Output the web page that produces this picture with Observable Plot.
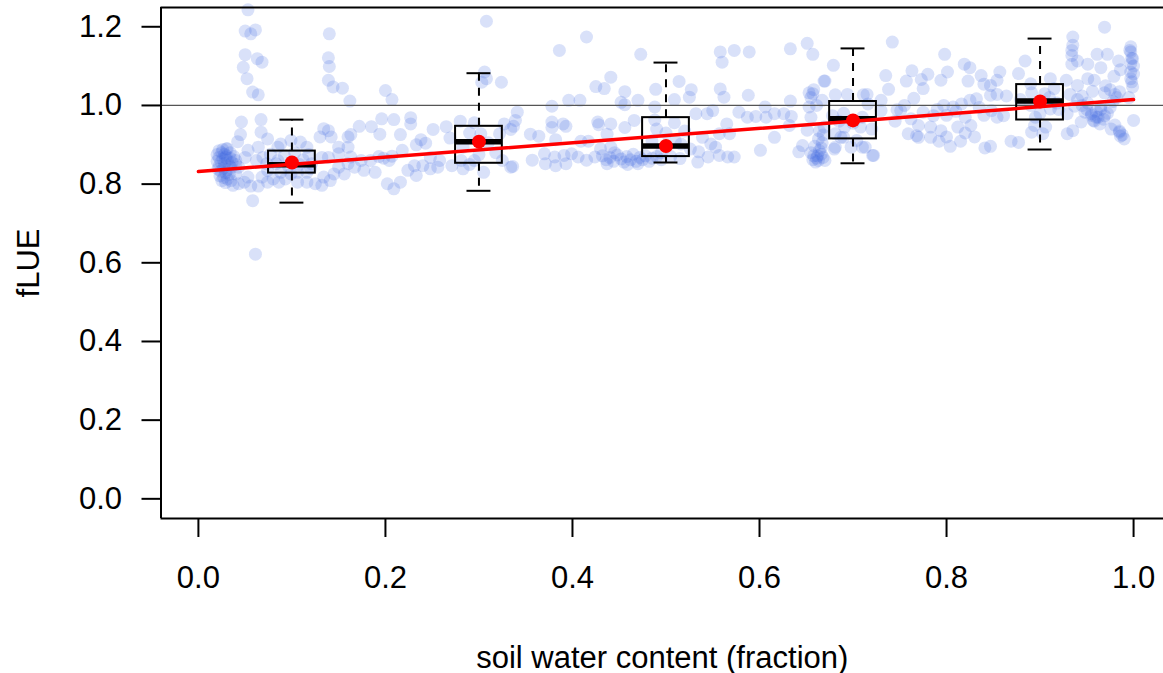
<!DOCTYPE html>
<html>
<head>
<meta charset="utf-8">
<script src="https://cdn.jsdelivr.net/npm/d3@7"></script>
<script src="https://cdn.jsdelivr.net/npm/@observablehq/plot@0.6"></script>
<style>
  html, body { margin: 0; padding: 0; background: #fff; overflow: hidden; }
  #chart svg { display: block; }
</style>
</head>
<body>
<div id="chart"></div>
<script>
// ---- data ----
// scatter: [soil water content fraction, fLUE]
const swcFlue = [
  // high outliers, dry end
  [0.053,1.243],[0.050,1.189],[0.056,1.182],[0.061,1.192],[0.050,1.129],[0.063,1.119],[0.068,1.110],[0.048,1.097],[0.052,1.068],[0.058,1.034],[0.064,1.027],
  [0.140,1.182],[0.139,1.121],[0.140,1.099],[0.139,1.064],[0.144,1.047],[0.154,1.044],[0.162,1.011],[0.200,1.038],[0.207,1.015],
  // dense dry column
  [0.022,0.885],[0.025,0.880],[0.028,0.876],[0.030,0.872],[0.022,0.868],[0.026,0.864],[0.031,0.860],[0.024,0.856],[0.028,0.852],[0.033,0.848],
  [0.022,0.845],[0.027,0.841],[0.031,0.837],[0.024,0.833],[0.029,0.829],[0.033,0.825],[0.023,0.821],[0.027,0.817],[0.031,0.813],[0.025,0.809],
  [0.029,0.804],[0.034,0.880],[0.034,0.866],[0.036,0.855],[0.020,0.875],[0.020,0.858],[0.021,0.838],[0.035,0.842],[0.038,0.870],[0.040,0.850],
  [0.026,0.888],[0.030,0.890],
  // 0.0 - 0.17
  [0.046,0.958],[0.067,0.964],[0.045,0.926],[0.067,0.932],[0.074,0.915],[0.042,0.908],[0.031,0.890],[0.053,0.886],[0.064,0.894],[0.050,0.868],
  [0.062,0.860],[0.069,0.868],[0.077,0.876],[0.085,0.894],[0.083,0.852],[0.074,0.835],[0.053,0.818],[0.049,0.805],[0.056,0.795],[0.064,0.795],
  [0.074,0.805],[0.080,0.813],[0.086,0.805],[0.093,0.813],[0.106,0.805],[0.116,0.805],[0.125,0.801],[0.134,0.818],[0.132,0.797],[0.141,0.809],
  [0.150,0.843],[0.160,0.852],[0.145,0.826],[0.156,0.826],[0.099,0.826],[0.088,0.830],[0.106,0.830],[0.116,0.830],[0.121,0.852],[0.132,0.868],
  [0.139,0.868],[0.150,0.877],[0.160,0.894],[0.163,0.869],[0.088,0.902],[0.099,0.911],[0.109,0.907],[0.116,0.894],[0.134,0.941],[0.139,0.936],
  [0.142,0.920],[0.130,0.920],[0.160,0.920],[0.150,0.894],[0.058,0.758],[0.061,0.622],[0.029,0.868],[0.040,0.860],[0.043,0.843],[0.040,0.826],
  [0.035,0.809],[0.037,0.797],[0.043,0.801],[0.068,0.818],[0.073,0.852],
  [0.092,0.872],[0.103,0.880],[0.112,0.862],[0.096,0.846],[0.108,0.850],[0.118,0.875],[0.085,0.860],[0.120,0.840],
  // 0.16 - 0.34
  [0.308,1.214],[0.306,1.085],[0.308,1.068],[0.303,1.059],[0.324,1.059],[0.196,0.966],[0.209,0.964],[0.227,0.969],[0.227,0.953],[0.172,0.947],
  [0.185,0.946],[0.194,0.927],[0.216,0.926],[0.163,0.926],[0.238,0.913],[0.243,0.904],[0.251,0.939],[0.265,0.946],[0.269,0.917],[0.280,0.960],
  [0.295,0.956],[0.233,0.900],[0.218,0.886],[0.207,0.871],[0.198,0.866],[0.193,0.870],[0.184,0.860],[0.174,0.860],[0.167,0.843],[0.177,0.835],
  [0.189,0.830],[0.204,0.860],[0.224,0.835],[0.233,0.822],[0.231,0.847],[0.240,0.847],[0.248,0.839],[0.256,0.843],[0.258,0.860],[0.248,0.868],
  [0.202,0.801],[0.209,0.788],[0.216,0.805],[0.271,0.847],[0.283,0.839],[0.281,0.860],[0.295,0.860],[0.305,0.830],[0.283,0.894],[0.302,0.928],
  [0.322,0.928],[0.327,0.953],[0.334,0.843],[0.337,0.947],
  [0.290,0.930],[0.310,0.905],[0.318,0.880],[0.300,0.875],[0.325,0.860],[0.290,0.850],
  // 0.33 - 0.50
  [0.415,1.174],[0.386,1.140],[0.473,1.130],[0.441,1.072],[0.425,1.048],[0.434,1.043],[0.456,1.035],[0.396,1.013],[0.408,1.013],[0.452,1.008],
  [0.456,1.002],[0.470,1.013],[0.489,1.041],[0.378,0.998],[0.341,0.983],[0.339,0.962],[0.334,0.939],[0.378,0.958],[0.378,0.944],[0.390,0.953],
  [0.393,0.947],[0.427,0.958],[0.428,0.951],[0.441,0.953],[0.456,0.944],[0.466,0.962],[0.355,0.927],[0.364,0.922],[0.382,0.913],[0.409,0.909],
  [0.417,0.909],[0.437,0.927],[0.441,0.894],[0.430,0.890],[0.370,0.877],[0.381,0.869],[0.391,0.873],[0.399,0.877],[0.406,0.869],[0.415,0.861],
  [0.424,0.869],[0.357,0.861],[0.371,0.852],[0.382,0.847],[0.393,0.852],[0.336,0.845],[0.488,0.996],[0.488,0.963],
  [0.432,0.872],[0.436,0.862],[0.440,0.868],[0.444,0.858],[0.448,0.874],[0.452,0.864],[0.455,0.856],[0.458,0.870],[0.462,0.862],[0.465,0.876],
  [0.468,0.858],[0.472,0.868],[0.475,0.862],[0.478,0.872],[0.482,0.858],[0.445,0.880],[0.459,0.850],[0.470,0.852],[0.437,0.852],[0.485,0.866],
  [0.490,0.870],[0.495,0.862],
  // 0.50 - 0.68
  [0.558,1.136],[0.573,1.140],[0.589,1.136],[0.560,1.110],[0.633,1.144],[0.651,1.158],[0.657,1.130],[0.679,1.102],[0.514,1.061],[0.527,1.040],
  [0.525,1.021],[0.558,1.042],[0.562,1.021],[0.588,1.026],[0.509,1.015],[0.653,1.032],[0.655,1.020],[0.670,1.062],[0.633,1.011],[0.532,0.979],
  [0.550,0.987],[0.544,0.979],[0.578,0.983],[0.587,0.970],[0.596,0.972],[0.606,0.996],[0.616,0.979],[0.626,0.979],[0.634,0.972],[0.607,0.970],
  [0.509,0.956],[0.565,0.953],[0.568,0.928],[0.557,0.928],[0.539,0.919],[0.548,0.902],[0.553,0.894],[0.535,0.882],[0.526,0.889],[0.516,0.902],
  [0.545,0.869],[0.557,0.873],[0.566,0.869],[0.573,0.869],[0.534,0.856],[0.601,0.886],[0.616,0.919],[0.632,0.949],[0.651,0.937],[0.655,0.970],
  [0.653,0.996],[0.667,1.013],[0.669,0.945],[0.646,0.898],[0.642,0.882],
  [0.490,0.940],[0.500,0.930],[0.510,0.910],[0.495,0.880],[0.505,0.870],[0.515,0.865],[0.520,0.935],[0.485,0.910],
  [0.655,0.880],[0.658,0.872],[0.661,0.866],[0.663,0.860],[0.666,0.876],[0.668,0.868],[0.660,0.856],[0.664,0.885],[0.657,0.862],[0.670,0.860],
  [0.662,0.872],[0.666,0.892],[0.659,0.896],[0.667,0.905],[0.663,0.915],[0.668,0.925],[0.664,0.935],[0.661,1.000],[0.658,1.040],
  // 0.66 - 0.85
  [0.657,1.030],[0.669,1.062],[0.681,1.027],[0.711,1.027],[0.716,1.004],[0.687,0.919],[0.680,0.889],[0.698,0.894],[0.710,0.894],[0.721,0.873],
  [0.691,0.945],[0.690,0.980],[0.700,0.955],[0.710,0.970],[0.720,0.940],[0.685,0.960],
  [0.742,1.161],[0.798,1.130],[0.819,1.105],[0.825,1.096],[0.735,1.076],[0.763,1.088],[0.757,1.062],[0.773,1.066],[0.780,1.079],[0.801,1.085],
  [0.794,1.064],[0.775,1.043],[0.738,1.041],[0.823,1.062],[0.837,1.076],[0.840,1.054],[0.694,1.028],[0.715,1.028],[0.765,1.018],[0.730,1.013],
  [0.747,0.989],[0.751,0.987],[0.775,0.983],[0.786,0.974],[0.797,1.000],[0.807,0.996],[0.816,1.004],[0.825,1.013],[0.832,1.017],[0.847,1.026],
  [0.730,0.987],[0.762,0.966],[0.770,0.949],[0.783,0.945],[0.794,0.936],[0.812,0.945],[0.826,0.949],[0.759,0.928],[0.768,0.923],[0.770,0.919],
  [0.783,0.919],[0.792,0.909],[0.804,0.896],[0.815,0.909],[0.841,0.892],[0.681,0.928],[0.690,0.919],[0.704,0.911],[0.713,0.894],[0.722,0.873],
  [0.681,0.894],[0.708,0.945],[0.678,0.974],[0.848,0.987],
  [0.790,0.990],[0.800,0.975],[0.810,0.985],[0.820,0.970],[0.835,0.995],[0.840,0.975],[0.755,1.000],[0.745,0.960],[0.820,0.930],[0.830,0.920],[0.800,0.920],
  // 0.85 - 1.00
  [0.969,1.199],[0.935,1.174],[0.935,1.153],[0.934,1.140],[0.934,1.127],[0.934,1.105],[0.997,1.149],[0.997,1.136],[0.999,1.119],[0.997,1.106],
  [0.997,1.085],[0.997,1.068],[0.999,1.047],[0.961,1.130],[0.972,1.130],[0.984,1.113],[0.965,1.096],[0.951,1.105],[0.940,1.113],[0.979,1.074],
  [0.986,1.091],[0.884,1.113],[0.857,1.085],[0.877,1.081],[0.911,1.068],[0.928,1.064],[0.940,1.051],[0.951,1.068],[0.958,1.064],[0.854,1.064],
  [0.890,1.055],[0.847,1.051],[0.915,1.043],[0.854,1.028],[0.864,1.024],[0.879,1.015],[0.891,1.032],[0.932,1.028],[0.945,1.024],[0.956,1.036],
  [0.969,1.032],[0.980,1.028],[0.937,0.998],[0.951,1.006],[0.965,0.998],[0.948,0.983],[0.955,0.979],[0.960,0.970],[0.957,0.962],[0.964,0.953],
  [0.944,0.958],[0.969,0.974],[0.929,0.979],[1.000,0.962],[0.976,0.940],[0.985,0.932],[0.986,0.922],[0.935,0.936],[0.929,0.928],[0.891,0.932],
  [0.903,0.928],[0.906,0.945],[0.894,0.949],[0.869,0.909],[0.877,0.906],[0.854,0.970],[0.861,0.974],[0.847,0.896],[0.918,1.006],[0.911,0.991],
  [0.950,0.990],[0.955,0.975],[0.960,0.985],[0.962,0.970],[0.958,0.960],[0.965,0.990],[0.968,0.965],[0.972,0.980],[0.975,0.995],[0.978,1.010],
  [0.982,1.020],[0.985,1.035],[0.970,1.050],[0.975,1.040],[0.980,0.950],[0.985,0.935],[0.988,0.925],[0.990,0.915],[0.995,1.020],[0.998,1.060],
  [1.000,1.080],[1.000,1.100],[0.998,1.120],[0.996,1.140],[0.945,1.000],[0.940,1.015],
  [0.890,1.000],[0.900,0.980],[0.910,1.020],[0.895,0.970],[0.905,1.030],[0.920,0.990]
];

// box plots per soil-water class
const classMid   = [0.1, 0.3, 0.5, 0.7, 0.9];
const whiskerLow = [0.753, 0.783, 0.855, 0.853, 0.888];
const quart1     = [0.828, 0.853, 0.870, 0.915, 0.963];
const medians    = [0.849, 0.908, 0.897, 0.966, 1.011];
const quart3     = [0.884, 0.947, 0.969, 1.010, 1.053];
const whiskerHi  = [0.964, 1.082, 1.109, 1.145, 1.170];
const classMeans = [0.855, 0.908, 0.897, 0.962, 1.010];

// fitted line
const fitX = [0, 1];
const fitY = [0.832, 1.015];

// axis ticks
const xTicks = [0, 0.2, 0.4, 0.6, 0.8, 1.0];
const yTicks = [0, 0.2, 0.4, 0.6, 0.8, 1.0, 1.2];

// ---- build ----
const boxes = classMid.map((x, i) => ({x, lo: whiskerLow[i], q1: quart1[i], med: medians[i], q3: quart3[i], hi: whiskerHi[i], mean: classMeans[i]}));
const fit = fitX.map((x, i) => ({x, y: fitY[i]}));

const xDomain = [-0.04, 1.032];
const yDomain = [-0.05, 1.249];
const boxHalf = 0.025;
const capHalf = 0.0128;
const FONT = "'Liberation Sans', Arial, Helvetica, sans-serif";

const chart = Plot.plot({
  width: 1163,
  height: 673,
  marginLeft: 160.5,
  marginRight: 0,
  marginTop: 7,
  marginBottom: 155,
  style: {fontFamily: FONT, fontSize: "31px", background: "#fff", color: "#000", overflow: "hidden"},
  x: {domain: xDomain},
  y: {domain: yDomain},
  marks: [
    Plot.dot(swcFlue, {x: d => d[0], y: d => d[1], r: 6.5, fill: "#4169E1", fillOpacity: 0.2, stroke: "none"}),
    Plot.ruleY([1], {stroke: "#555", strokeWidth: 1.3}),
    // whiskers
    Plot.ruleX(boxes, {x: "x", y1: "q3", y2: "hi", stroke: "#000", strokeWidth: 2, strokeDasharray: "8,7"}),
    Plot.ruleX(boxes, {x: "x", y1: "q1", y2: "lo", stroke: "#000", strokeWidth: 2, strokeDasharray: "8,7"}),
    Plot.ruleY(boxes, {y: "hi", x1: d => d.x - capHalf, x2: d => d.x + capHalf, stroke: "#000", strokeWidth: 2}),
    Plot.ruleY(boxes, {y: "lo", x1: d => d.x - capHalf, x2: d => d.x + capHalf, stroke: "#000", strokeWidth: 2}),
    // boxes
    Plot.rect(boxes, {x1: d => d.x - boxHalf, x2: d => d.x + boxHalf, y1: "q1", y2: "q3", fill: "none", stroke: "#000", strokeWidth: 2}),
    Plot.ruleY(boxes, {y: "med", x1: d => d.x - boxHalf, x2: d => d.x + boxHalf, stroke: "#000", strokeWidth: 5.5}),
    // fitted line and class means
    Plot.line(fit, {x: "x", y: "y", stroke: "#ff0000", strokeWidth: 3.5}),
    Plot.dot(boxes, {x: "x", y: "mean", r: 7, fill: "#ff0000", stroke: "none"}),
    // plot box (left, top, bottom)
    Plot.ruleY([yDomain[1]], {stroke: "#000", strokeWidth: 2}),
    Plot.ruleY([yDomain[0]], {stroke: "#000", strokeWidth: 2}),
    Plot.ruleX([xDomain[0]], {stroke: "#000", strokeWidth: 2}),
    // axes
    Plot.axisX(xTicks, {
      tickSize: 19, tickPadding: 28, tickFormat: d3.format(".1f"), strokeWidth: 2,
      fontSize: 31, fontFamily: FONT,
      label: "soil water content (fraction)", labelAnchor: "center", labelArrow: "none", labelOffset: 149
    }),
    Plot.axisY(yTicks, {
      tickSize: 19, tickPadding: 20, tickFormat: d3.format(".1f"), strokeWidth: 2,
      fontSize: 31, fontFamily: FONT,
      label: "fLUE", labelAnchor: "center", labelArrow: "none", labelOffset: 144
    })
  ]
});
document.getElementById("chart").appendChild(chart);
</script>
</body>
</html>
